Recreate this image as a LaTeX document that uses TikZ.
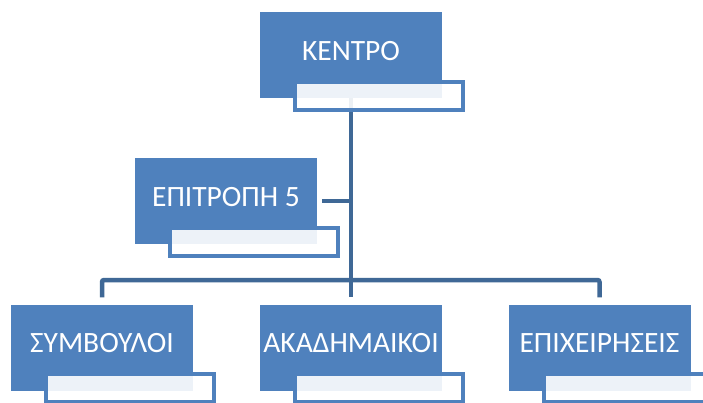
\documentclass[tikz,border=0pt]{standalone}
\usepackage{fontspec}
\setmainfont{Carlito}
\definecolor{boxblue}{HTML}{4F81BD}
\definecolor{linkblue}{HTML}{3F6896}
\begin{document}
\begin{tikzpicture}[x=1pt,y=-1pt,
  bluebox/.style={fill=boxblue, minimum width=182pt, minimum height=86pt, inner sep=0pt},
  label/.style={text=white, font=\fontsize{29.5}{32}\selectfont, inner sep=0pt},
  subbox/.style={draw=boxblue, line width=4pt, fill=white, fill opacity=0.9,
    minimum width=168pt, minimum height=28pt, inner sep=0pt},
  link/.style={draw=linkblue, line width=4.5pt, rounded corners=2pt}]
\clip (0,0) rectangle (703,402);
\fill[white] (0,0) rectangle (703,402);
% coordinates
\coordinate (kc) at (351,55);
\coordinate (ec) at (226,201);
\coordinate (sc) at (102,347.5);
\coordinate (ac) at (351,347.5);
\coordinate (xc) at (599.5,347.5);
\coordinate (hub) at (351,280);
% blue boxes
\node[bluebox] (kentro) at (kc) {};
\node[bluebox] (epit) at (ec) {};
\node[bluebox] (symv) at (sc) {};
\node[bluebox] (akad) at (ac) {};
\node[bluebox] (epix) at (xc) {};
% connectors
\draw[link] (kentro.south) -- (hub);
\draw[link] ([xshift=5pt]epit.east) -- (epit.east -| kentro.south);
\draw[link] ([yshift=7pt]symv.north) |- (hub) -| ([yshift=7pt]epix.north);
\draw[link] (hub) -- ([yshift=7pt]akad.north);
% sub boxes
\foreach \n in {kentro,epit,symv,akad,epix}{
  \node[subbox] (\n-sub) at ([xshift=28pt,yshift=-40.5pt]\n.center) {};
}
% labels
\node[label] (kentro-t) at ([yshift=4pt]kentro.center) {ΚΕΝΤΡΟ};
\node[label] (epit-t) at ([yshift=4pt]epit.center) {ΕΠΙΤΡΟΠΗ 5};
\node[label] (symv-t) at ([yshift=4pt]symv.center) {ΣΥΜΒΟΥΛΟΙ};
\node[label] (akad-t) at ([yshift=4pt]akad.center) {ΑΚΑΔΗΜΑΙΚΟΙ};
\node[label] (epix-t) at ([yshift=4pt]epix.center) {ΕΠΙΧΕΙΡΗΣΕΙΣ};
\end{tikzpicture}
\end{document}
